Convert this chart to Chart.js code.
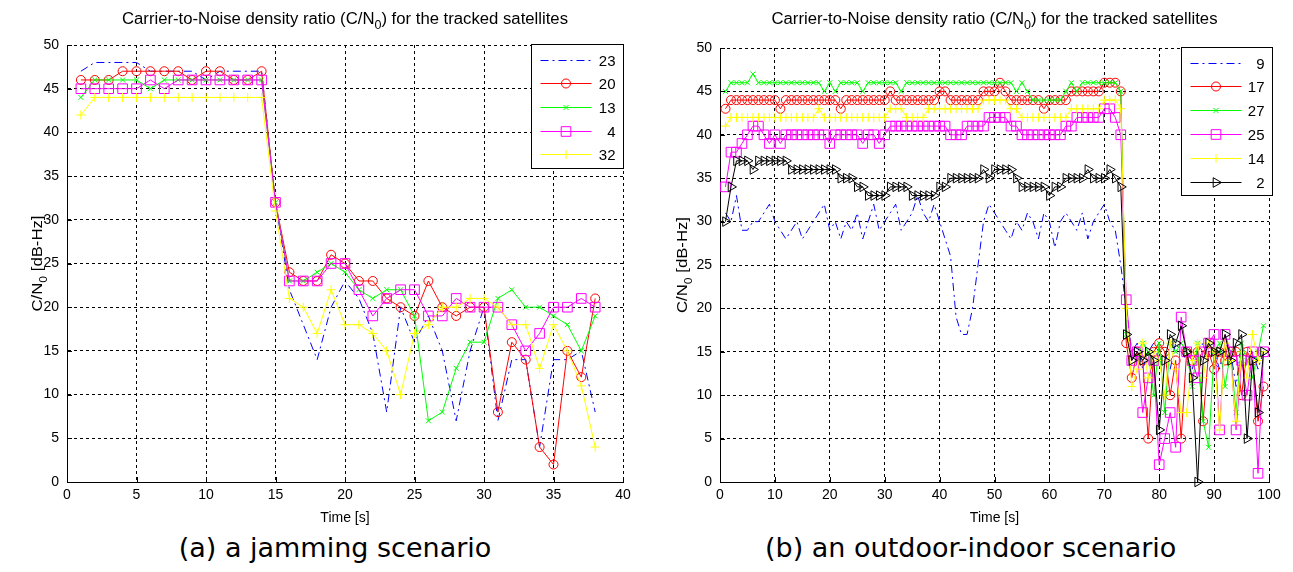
<!DOCTYPE html>
<html>
<head>
<meta charset="utf-8">
<title>C/N0 of tracked satellites</title>
<script src="https://cdn.jsdelivr.net/npm/chart.js@4.4.0/dist/chart.umd.min.js"></script>
<style>
  body { margin: 0; background: #fff; width: 1293px; height: 572px; position: relative; overflow: hidden; }
  canvas { position: absolute; top: 0; }
  #chart-jam { left: 0; }
  #chart-indoor { left: 650px; }
  .caption {
    position: absolute; top: 531px; height: 34px; line-height: 34px;
    font-family: "DejaVu Sans", Verdana, sans-serif; font-size: 27px; color: #000;
    text-align: center; white-space: nowrap;
  }
  #caption-jam { left: 135px; width: 400px; }
  #caption-indoor { left: 765px; width: 400px; }
</style>
</head>
<body>
<canvas id="chart-jam" width="650" height="530"></canvas>
<canvas id="chart-indoor" width="643" height="530"></canvas>
<div class="caption" id="caption-jam">(a) a jamming scenario</div>
<div class="caption" id="caption-indoor">(b) an outdoor-indoor scenario</div>

<script>
// (a) jamming scenario, one sample per second
const jamTime = [1, 2, 3, 4, 5, 6, 7, 8, 9, 10, 11, 12, 13, 14, 15, 16, 17, 18, 19, 20,
  21, 22, 23, 24, 25, 26, 27, 28, 29, 30, 31, 32, 33, 34, 35, 36, 37, 38];
const jamSat23 = [47, 48, 48, 48, 48, 47, 47, 47, 47, 46, 47, 47, 47, 47, 32, 22, 18, 14, 20, 23,
  21, 17, 8, 20, 16, 19, 15, 7, 15, 20, 7, 14, 14, 4, 14, 14, 15, 8];
const jamSat20 = [46, 46, 46, 47, 47, 47, 47, 47, 46, 47, 47, 46, 46, 47, 32, 24, 23, 23, 26, 25,
  23, 23, 21, 20, 19, 23, 20, 19, 20, 20, 8, 16, 14, 4, 2, 15, 12, 21];
const jamSat13 = [44, 46, 46, 46, 46, 45, 46, 46, 46, 46, 46, 46, 46, 46, 32, 23, 23, 24, 25, 24,
  22, 21, 22, 22, 19, 7, 8, 13, 16, 16, 21, 22, 20, 20, 19, 18, 15, 19];
const jamSat4 = [45, 45, 45, 45, 45, 46, 45, 46, 46, 46, 46, 46, 46, 46, 32, 23, 23, 23, 25, 25,
  22, 19, 21, 22, 22, 19, 19, 21, 20, 20, 20, 18, 15, 17, 20, 20, 21, 20];
const jamSat32 = [42, 44, 44, 44, 44, 44, 44, 44, 44, 44, 44, 44, 44, 44, 31, 21, 20, 17, 22, 18,
  18, 17, 15, 10, 17, 18, 20, 20, 21, 21, 20, 18, 18, 13, 18, 15, 11, 4];

// (b) outdoor-indoor scenario
const indoorTime = [1, 2, 3, 4, 5, 6, 7, 8, 9, 10, 11, 12, 13, 14, 15, 16, 17, 18, 19, 20,
  21, 22, 23, 24, 25, 26, 27, 28, 29, 30, 31, 32, 33, 34, 35, 36, 37, 38, 39, 40,
  41, 42, 43, 44, 45, 46, 47, 48, 49, 50, 51, 52, 53, 54, 55, 56, 57, 58, 59, 60,
  61, 62, 63, 64, 65, 66, 67, 68, 69, 70, 71, 72, 73, 74, 75, 76, 77, 78, 79, 80,
  81, 82, 83, 84, 85, 86, 87, 88, 89, 90, 91, 92, 93, 94, 95, 96, 97, 98, 99];
const indoorSat9 = [
  31, 30, 33, 29, 29, 30, 30, 31, 32, 30,
  29, 28, 29, 30, 28, 29, 30, 31, 32, 29,
  30, 28, 30, 29, 31, 28, 30, 32, 29, 30,
  31, 32, 29, 30, 31, 33, 31, 30, 32, 30,
  28, 26, 19, 17, 17, 20, 25, 30, 32, 31,
  30, 29, 28, 30, 29, 31, 30, 28, 31, 30,
  27, 30, 31, 30, 29, 31, 28, 30, 31, 32,
  30, 29, 25, 20, 15, 16, 13, 15, 16, 14,
  15, 13, 16, 15, 14, 13, 15, 16, 14, 15,
  13, 16, 15, 11, 16, 14, 15, 13, 15];
const indoorSat17 = [
  43, 44, 44, 44, 44, 44, 44, 44, 44, 44,
  43, 44, 44, 44, 44, 44, 44, 44, 44, 44,
  44, 43, 44, 44, 44, 44, 44, 44, 44, 44,
  45, 44, 44, 44, 44, 44, 44, 44, 44, 45,
  45, 44, 44, 44, 44, 44, 44, 45, 45, 45,
  46, 45, 44, 44, 44, 44, 44, 44, 43, 44,
  44, 44, 44, 45, 45, 45, 45, 45, 45, 46,
  46, 46, 45, 16, 12, 15, 14, 5, 15, 16,
  15, 10, 14, 5, 15, 14, 15, 7, 15, 13,
  15, 14, 15, 15, 10, 15, 14, 7, 11];
const indoorSat27 = [
  45, 46, 46, 46, 46, 47, 46, 46, 46, 46,
  46, 46, 46, 46, 46, 46, 46, 46, 45, 46,
  45, 46, 46, 46, 46, 45, 46, 46, 46, 46,
  46, 46, 45, 46, 46, 46, 46, 46, 46, 46,
  46, 46, 46, 46, 46, 46, 46, 46, 46, 46,
  46, 46, 46, 45, 46, 45, 44, 44, 44, 44,
  44, 44, 45, 46, 45, 46, 46, 46, 46, 46,
  46, 46, 45, 17, 15, 14, 16, 15, 10, 16,
  8, 16, 15, 16, 15, 11, 16, 7, 4, 15,
  16, 11, 15, 8, 16, 14, 12, 15, 18];
const indoorSat25 = [
  34, 38, 38, 39, 40, 41, 41, 40, 39, 40,
  39, 40, 40, 40, 40, 40, 40, 40, 40, 39,
  40, 40, 40, 40, 40, 39, 40, 40, 39, 40,
  41, 41, 41, 41, 41, 41, 41, 41, 41, 41,
  41, 40, 40, 40, 41, 41, 41, 41, 42, 42,
  42, 42, 41, 41, 40, 40, 40, 40, 40, 40,
  40, 40, 41, 41, 42, 42, 42, 42, 42, 43,
  43, 42, 40, 21, 14, 15, 8, 12, 14, 2,
  5, 8, 4, 19, 15, 14, 12, 15, 16, 17,
  6, 17, 15, 6, 14, 10, 15, 1, 15];
const indoorSat14 = [
  41, 42, 42, 42, 42, 42, 42, 42, 42, 42,
  42, 42, 42, 42, 42, 42, 42, 43, 42, 42,
  42, 42, 42, 42, 42, 42, 42, 42, 42, 42,
  43, 43, 43, 42, 42, 42, 42, 43, 43, 43,
  43, 43, 43, 43, 43, 43, 43, 44, 44, 44,
  44, 44, 43, 43, 42, 42, 42, 42, 42, 42,
  42, 42, 42, 43, 43, 43, 43, 43, 43, 44,
  44, 44, 43, 20, 11, 13, 16, 12, 15, 14,
  10, 16, 13, 8, 8, 14, 16, 12, 16, 15,
  6, 16, 14, 7, 15, 12, 17, 14, 15];
const indoorSat2 = [
  30, 34, 37, 37, 37, 36, 37, 37, 37, 37,
  37, 37, 36, 36, 36, 36, 36, 36, 36, 36,
  36, 35, 35, 35, 34, 34, 33, 33, 33, 33,
  34, 34, 34, 34, 33, 33, 33, 33, 33, 34,
  34, 35, 35, 35, 35, 35, 35, 36, 35, 36,
  36, 36, 36, 35, 34, 34, 34, 34, 34, 33,
  34, 34, 35, 35, 35, 35, 36, 35, 35, 35,
  36, 35, 34, 17, 14, 15, 14, 15, 14, 6,
  14, 17, 16, 18, 15, 12, 0, 14, 16, 15,
  15, 17, 14, 16, 17, 5, 14, 8, 15];

const yTicks = [0, 5, 10, 15, 20, 25, 30, 35, 40, 45, 50];

const FONT = '"Liberation Sans", Arial, sans-serif';

// MATLAB-like marker styles mapped onto Chart.js point styles
const MARKERS = {
  none: { pointStyle: false, pointRadius: 0 },
  o: { pointStyle: 'circle', pointRadius: 4.5 },
  x: { pointStyle: 'crossRot', pointRadius: 3.5 },
  s: { pointStyle: 'rect', pointRadius: 6.8 },
  '+': { pointStyle: 'cross', pointRadius: 4.5 },
  '>': { pointStyle: 'triangle', pointRadius: 5.5, pointRotation: 90 },
};

const DASH_DOT = [8, 4, 2, 4];

const jamSeries = [
  { label: '23', values: jamSat23, color: '#0000ff', marker: 'none', dash: DASH_DOT },
  { label: '20', values: jamSat20, color: '#ff0000', marker: 'o' },
  { label: '13', values: jamSat13, color: '#00ff00', marker: 'x' },
  { label: '4', values: jamSat4, color: '#ff00ff', marker: 's' },
  { label: '32', values: jamSat32, color: '#ffff00', marker: '+' },
];

const indoorSeries = [
  { label: '9', values: indoorSat9, color: '#0000ff', marker: 'none', dash: DASH_DOT },
  { label: '17', values: indoorSat17, color: '#ff0000', marker: 'o' },
  { label: '27', values: indoorSat27, color: '#00ff00', marker: 'x' },
  { label: '25', values: indoorSat25, color: '#ff00ff', marker: 's' },
  { label: '14', values: indoorSat14, color: '#ffff00', marker: '+' },
  { label: '2', values: indoorSat2, color: '#000000', marker: '>' },
];

function buildDatasets(time, series) {
  return series.map((s, i) => Object.assign({
    label: s.label,
    data: time.map((t, k) => ({ x: t, y: s.values[k] })),
    borderColor: s.color,
    borderWidth: 1,
    borderDash: s.dash || [],
    pointBorderColor: s.color,
    pointBackgroundColor: 'rgba(0,0,0,0)',
    pointBorderWidth: 1,
    tension: 0,
    clip: false,
    // later series on top, like MATLAB
    order: series.length - i,
  }, MARKERS[s.marker]));
}

function drawMarker(ctx, marker, x, y, color) {
  ctx.save();
  ctx.strokeStyle = color;
  ctx.lineWidth = 1;
  ctx.setLineDash([]);
  ctx.beginPath();
  switch (marker) {
    case 'o':
      ctx.arc(x, y, 4.5, 0, Math.PI * 2);
      break;
    case 's':
      ctx.rect(x - 4.8, y - 4.8, 9.6, 9.6);
      break;
    case '+':
      ctx.moveTo(x - 4.5, y); ctx.lineTo(x + 4.5, y);
      ctx.moveTo(x, y - 4.5); ctx.lineTo(x, y + 4.5);
      break;
    case 'x':
      ctx.moveTo(x - 2.5, y - 2.5); ctx.lineTo(x + 2.5, y + 2.5);
      ctx.moveTo(x - 2.5, y + 2.5); ctx.lineTo(x + 2.5, y - 2.5);
      break;
    case '>':
      ctx.moveTo(x + 5.5, y); ctx.lineTo(x - 2.8, y - 4.8); ctx.lineTo(x - 2.8, y + 4.8);
      ctx.closePath();
      break;
    default:
      break;
  }
  ctx.stroke();
  ctx.restore();
}

// text made of plain and subscript pieces, optionally stretched to a target width
function drawRich(ctx, parts, cx, cy, size, targetWidth, rotate) {
  const base = size + 'px ' + FONT;
  const sub = Math.round(size * 0.72) + 'px ' + FONT;
  let total = 0;
  const widths = parts.map(([t, isSub]) => {
    ctx.font = isSub ? sub : base;
    const w = ctx.measureText(t).width;
    total += w;
    return w;
  });
  ctx.save();
  ctx.translate(cx, cy);
  if (rotate) ctx.rotate(-Math.PI / 2);
  if (targetWidth) ctx.scale(targetWidth / total, 1);
  ctx.fillStyle = '#000';
  ctx.textAlign = 'left';
  ctx.textBaseline = 'middle';
  let xPos = -total / 2;
  parts.forEach(([t, isSub], i) => {
    ctx.font = isSub ? sub : base;
    ctx.fillText(t, xPos, isSub ? size * 0.38 : 0);
    xPos += widths[i];
  });
  ctx.restore();
}

const CN0_TITLE = [['Carrier-to-Noise density ratio (C/N', false], ['0', true], [') for the tracked satellites', false]];
const CN0_AXIS = [['C/N', false], ['0', true], [' [dB-Hz]', false]];

const matlabAxes = {
  id: 'matlabAxes',
  afterDraw(chart, args, opts) {
    const { ctx, chartArea: a } = chart;
    const xs = chart.scales.x;
    const ys = chart.scales.y;

    // inward tick marks on the bottom and left axes
    ctx.save();
    ctx.strokeStyle = '#000';
    ctx.lineWidth = 1;
    ctx.beginPath();
    xs.ticks.forEach((t) => {
      const px = Math.round(xs.getPixelForValue(t.value)) + 0.5;
      ctx.moveTo(px, a.bottom);
      ctx.lineTo(px, a.bottom - 5);
    });
    ys.ticks.forEach((t) => {
      const py = Math.round(ys.getPixelForValue(t.value)) + 0.5;
      ctx.moveTo(a.left, py);
      ctx.lineTo(a.left + 5, py);
    });
    ctx.stroke();
    ctx.restore();

    // legend box in the upper right corner
    const lg = opts.legend;
    const boxLeft = Math.round(a.right - lg.width + lg.shift) + 0.5;
    const boxTop = Math.round(a.top + lg.top) + 0.5;
    ctx.save();
    ctx.fillStyle = '#fff';
    ctx.strokeStyle = '#000';
    ctx.lineWidth = 1;
    ctx.fillRect(boxLeft, boxTop, lg.width, lg.height);
    ctx.strokeRect(boxLeft, boxTop, lg.width, lg.height);
    opts.series.forEach((s, i) => {
      const rowY = Math.round(boxTop + lg.firstRow + i * lg.rowGap) + 0.5;
      const x0 = boxLeft + 9;
      const x1 = boxLeft + 60;
      ctx.strokeStyle = s.color;
      ctx.lineWidth = 1;
      ctx.setLineDash(s.dash || []);
      ctx.beginPath();
      ctx.moveTo(x0, rowY);
      ctx.lineTo(x1, rowY);
      ctx.stroke();
      ctx.setLineDash([]);
      drawMarker(ctx, s.marker, (x0 + x1) / 2, rowY, s.color);
      ctx.fillStyle = '#000';
      ctx.font = '15px ' + FONT;
      ctx.textAlign = 'right';
      ctx.textBaseline = 'middle';
      ctx.fillText(s.label, boxLeft + lg.width - 8, rowY + 1);
    });
    ctx.restore();

    // title and axis labels
    const midX = (a.left + a.right) / 2;
    drawRich(ctx, CN0_TITLE, midX, 20, 16, 446, false);
    drawRich(ctx, CN0_AXIS, opts.yLabelX, (a.top + a.bottom) / 2, 15, 96, true);
    ctx.save();
    ctx.fillStyle = '#000';
    ctx.font = '14px ' + FONT;
    ctx.textAlign = 'center';
    ctx.textBaseline = 'middle';
    ctx.fillText('Time [s]', midX, 518);
    ctx.restore();
  },
};

function makeChart(canvasId, time, series, cfg) {
  const tickFont = { family: FONT, size: 14 };
  return new Chart(document.getElementById(canvasId), {
    type: 'line',
    data: { datasets: buildDatasets(time, series) },
    options: {
      responsive: false,
      animation: false,
      devicePixelRatio: 1,
      events: [],
      layout: { padding: { left: 0, top: cfg.top, right: cfg.right, bottom: 0 } },
      plugins: {
        legend: { display: false },
        title: { display: false },
        tooltip: { enabled: false },
        matlabAxes: { series, legend: cfg.legend, yLabelX: cfg.yLabelX },
      },
      scales: {
        x: {
          type: 'linear',
          min: 0,
          max: cfg.xMax,
          afterBuildTicks: (s) => { s.ticks = cfg.xTicks.map((v) => ({ value: v })); },
          ticks: { font: tickFont, color: '#000', padding: 5, maxRotation: 0, autoSkip: false },
          grid: { color: '#000', lineWidth: 1, drawTicks: false },
          border: { display: true, color: '#000', width: 1, dash: [3, 3] },
          afterFit: (s) => { s.height = 48; s.paddingLeft = 0; s.paddingRight = 0; },
        },
        y: {
          min: 0,
          max: 50,
          afterBuildTicks: (s) => { s.ticks = yTicks.map((v) => ({ value: v })); },
          ticks: { font: tickFont, color: '#000', padding: 8 },
          grid: { color: '#000', lineWidth: 1, drawTicks: false },
          border: { display: true, color: '#000', width: 1, dash: [3, 3] },
          afterFit: (s) => { s.width = cfg.yWidth; s.paddingTop = 0; s.paddingBottom = 0; },
        },
      },
    },
    plugins: [matlabAxes],
  });
}

const jamXTicks = [0, 5, 10, 15, 20, 25, 30, 35, 40];
const indoorXTicks = [0, 10, 20, 30, 40, 50, 60, 70, 80, 90, 100];

window.addEventListener('DOMContentLoaded', () => {
  makeChart('chart-jam', jamTime, jamSeries, {
    xMax: 40, xTicks: jamXTicks, top: 45, right: 27, yWidth: 67, yLabelX: 38,
    legend: { width: 92, height: 124, top: -1, shift: 0, firstRow: 15, rowGap: 23.7 },
  });
  makeChart('chart-indoor', indoorTime, indoorSeries, {
    xMax: 100, xTicks: indoorXTicks, top: 48, right: 24, yWidth: 70, yLabelX: 33,
    legend: { width: 91, height: 148, top: -1, shift: 3, firstRow: 15, rowGap: 23.8 },
  });
});
</script>
</body>
</html>
